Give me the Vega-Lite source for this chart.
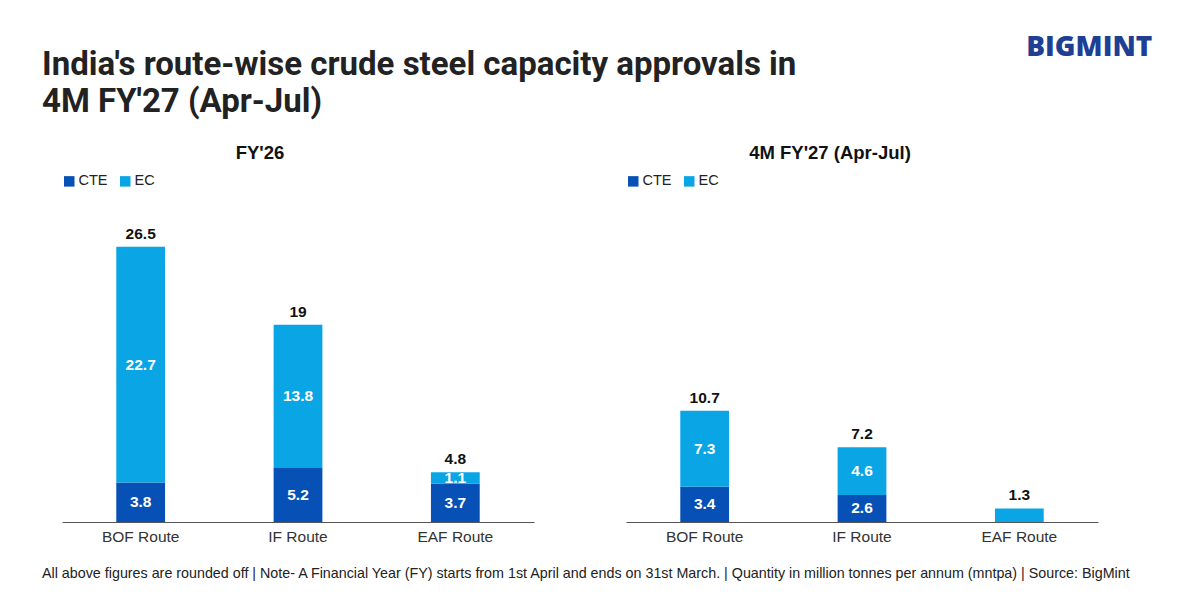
{
  "$schema": "https://vega.github.io/schema/vega-lite/v6.json",
  "background": "white",
  "padding": {"left": 42, "top": 33, "right": 10, "bottom": 10},
  "title": {"text": "BIGMINT", "anchor": "end", "orient": "top", "offset": -13, "dx": 20, "font": "Open Sans", "fontSize": 28, "fontWeight": 800, "color": "#1e3f94"},
  "datasets": {
    "fy26": [
      {"route": "BOF Route", "type": "CTE", "value": 3.8},
      {"route": "BOF Route", "type": "EC", "value": 22.7},
      {"route": "IF Route", "type": "CTE", "value": 5.2},
      {"route": "IF Route", "type": "EC", "value": 13.8},
      {"route": "EAF Route", "type": "CTE", "value": 3.7},
      {"route": "EAF Route", "type": "EC", "value": 1.1}
    ],
    "fy27": [
      {"route": "BOF Route", "type": "CTE", "value": 3.4},
      {"route": "BOF Route", "type": "EC", "value": 7.3},
      {"route": "IF Route", "type": "CTE", "value": 2.6},
      {"route": "IF Route", "type": "EC", "value": 4.6},
      {"route": "EAF Route", "type": "EC", "value": 1.3}
    ]
  },
  "vconcat": [
    {
      "title": {"text": ["India's route-wise crude steel capacity approvals in", "4M FY'27 (Apr-Jul)"], "anchor": "start", "offset": 25, "font": "Roboto", "fontSize": 33, "fontWeight": "bold", "color": "#222222", "lineHeight": 37},
      "vconcat": [
        {
          "title": {"text": "All above figures are rounded off | Note- A Financial Year (FY) starts from 1st April and ends on 31st March. | Quantity in million tonnes per annum (mntpa) | Source: BigMint", "orient": "bottom", "anchor": "start", "dx": -20, "offset": 22, "font": "Liberation Sans", "fontSize": 14.3, "fontWeight": "normal", "color": "#222222"},
          "spacing": 92,
          "resolve": {"scale": {"color": "independent", "y": "independent", "x": "independent"}, "legend": {"color": "independent"}},
          "hconcat": [
            {
              "title": {"text": "FY'26", "anchor": "middle", "dx": -38, "offset": 12, "font": "Liberation Sans", "fontSize": 18.5, "fontWeight": "bold", "color": "#111111"},
              "data": {"name": "fy26"},
              "width": 472,
              "height": 322,
              "encoding": {
                "x": {"field": "route", "type": "nominal", "sort": ["BOF Route", "IF Route", "EAF Route"], "scale": {"paddingInner": 0.69, "paddingOuter": 0.345}, "axis": {"title": null, "labelAngle": 0, "ticks": false, "labelPadding": 7, "labelFont": "Liberation Sans", "labelFontSize": 15.5, "labelColor": "#333333", "domainColor": "#555555", "grid": false}}
              },
              "layer": [
                {
                  "mark": {"type": "bar"},
                  "encoding": {
                    "y": {"field": "value", "type": "quantitative", "stack": "zero", "scale": {"domain": [0, 31], "nice": false}, "axis": null},
                    "color": {"field": "type", "type": "nominal", "scale": {"domain": ["CTE", "EC"], "range": ["#0750b5", "#0aa5e4"]}, "legend": {"title": null, "orient": "top", "direction": "horizontal", "symbolType": "square", "symbolSize": 110, "symbolStrokeWidth": 0, "labelFont": "Liberation Sans", "labelFontSize": 14.5, "labelColor": "#222222", "columnPadding": 10, "labelOffset": 2, "offset": 12}},
                    "order": {"field": "type", "sort": "ascending"}
                  }
                },
                {
                  "mark": {"type": "text", "color": "white", "font": "Liberation Sans", "fontSize": 15.5, "fontWeight": "bold", "baseline": "middle"},
                  "encoding": {
                    "y": {"field": "value", "type": "quantitative", "stack": "zero", "bandPosition": 0.5},
                    "detail": {"field": "type"},
                    "order": {"field": "type", "sort": "ascending"},
                    "text": {"field": "value", "type": "quantitative", "format": ".1f"}
                  }
                },
                {
                  "mark": {"type": "text", "color": "#111111", "font": "Liberation Sans", "fontSize": 15.5, "fontWeight": "bold", "baseline": "bottom", "dy": -5},
                  "encoding": {
                    "y": {"aggregate": "sum", "field": "value", "type": "quantitative"},
                    "text": {"aggregate": "sum", "field": "value", "type": "quantitative", "format": ".3~g"}
                  }
                }
              ]
            },
            {
              "title": {"text": "4M FY'27 (Apr-Jul)", "anchor": "middle", "dx": -32, "offset": 12, "font": "Liberation Sans", "fontSize": 18.5, "fontWeight": "bold", "color": "#111111"},
              "data": {"name": "fy27"},
              "width": 472,
              "height": 322,
              "encoding": {
                "x": {"field": "route", "type": "nominal", "sort": ["BOF Route", "IF Route", "EAF Route"], "scale": {"paddingInner": 0.69, "paddingOuter": 0.345}, "axis": {"title": null, "labelAngle": 0, "ticks": false, "labelPadding": 7, "labelFont": "Liberation Sans", "labelFontSize": 15.5, "labelColor": "#333333", "domainColor": "#555555", "grid": false}}
              },
              "layer": [
                {
                  "mark": {"type": "bar"},
                  "encoding": {
                    "y": {"field": "value", "type": "quantitative", "stack": "zero", "scale": {"domain": [0, 31], "nice": false}, "axis": null},
                    "color": {"field": "type", "type": "nominal", "scale": {"domain": ["CTE", "EC"], "range": ["#0750b5", "#0aa5e4"]}, "legend": {"title": null, "orient": "top", "direction": "horizontal", "symbolType": "square", "symbolSize": 110, "symbolStrokeWidth": 0, "labelFont": "Liberation Sans", "labelFontSize": 14.5, "labelColor": "#222222", "columnPadding": 10, "labelOffset": 2, "offset": 12}},
                    "order": {"field": "type", "sort": "ascending"}
                  }
                },
                {
                  "transform": [{"filter": "datum.route != 'EAF Route'"}],
                  "mark": {"type": "text", "color": "white", "font": "Liberation Sans", "fontSize": 15.5, "fontWeight": "bold", "baseline": "middle"},
                  "encoding": {
                    "y": {"field": "value", "type": "quantitative", "stack": "zero", "bandPosition": 0.5},
                    "detail": {"field": "type"},
                    "order": {"field": "type", "sort": "ascending"},
                    "text": {"field": "value", "type": "quantitative", "format": ".1f"}
                  }
                },
                {
                  "mark": {"type": "text", "color": "#111111", "font": "Liberation Sans", "fontSize": 15.5, "fontWeight": "bold", "baseline": "bottom", "dy": -5},
                  "encoding": {
                    "y": {"aggregate": "sum", "field": "value", "type": "quantitative"},
                    "text": {"aggregate": "sum", "field": "value", "type": "quantitative", "format": ".3~g"}
                  }
                }
              ]
            }
          ]
        }
      ]
    }
  ],
  "config": {"view": {"stroke": null}}
}
